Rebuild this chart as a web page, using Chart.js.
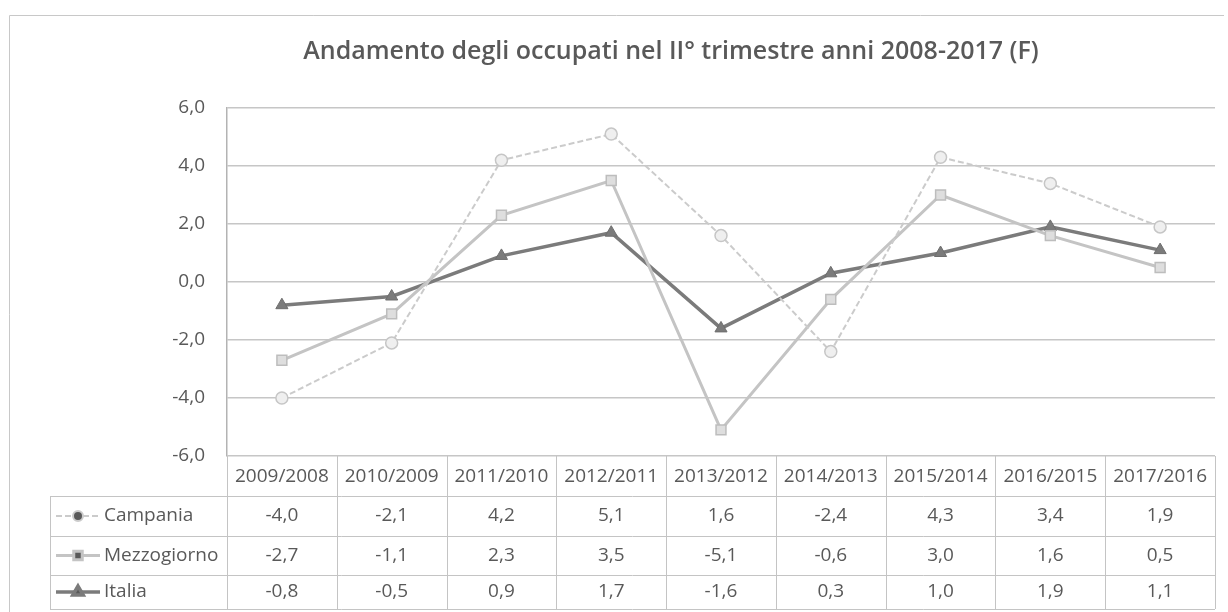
<!DOCTYPE html>
<html>
<head>
<meta charset="utf-8">
<title>Andamento degli occupati</title>
<script src="https://cdn.jsdelivr.net/npm/chart.js@4.4.1/dist/chart.umd.min.js"></script>
<style>
  html, body { margin: 0; padding: 0; background: #fff; }
  canvas { display: block; }
</style>
</head>
<body>
<canvas id="chart" width="1228" height="612"></canvas>
<script>
// dati
const categories = ["2009/2008", "2010/2009", "2011/2010", "2012/2011", "2013/2012",
                    "2014/2013", "2015/2014", "2016/2015", "2017/2016"];
const campania    = [-4.0, -2.1, 4.2, 5.1, 1.6, -2.4, 4.3, 3.4, 1.9];
const mezzogiorno = [-2.7, -1.1, 2.3, 3.5, -5.1, -0.6, 3.0, 1.6, 0.5];
const italia      = [-0.8, -0.5, 0.9, 1.7, -1.6, 0.3, 1.0, 1.9, 1.1];
const yTicks      = [-6, -4, -2, 0, 2, 4, 6];
const chartTitle  = 'Andamento degli occupati nel II° trimestre anni 2008-2017 (F)';

const FONT = "'Open Sans', 'Noto Sans', sans-serif";
const TEXT = '#595959';
const LINE = '#c4c4c4';

const fmt = v => v.toFixed(1).replace('.', ',');

// cornice, titolo e tabella dati sotto l'asse x (come in Excel)
const dataTable = {
  id: 'dataTable',
  beforeDraw(chart) {
    const ctx = chart.ctx;
    ctx.save();
    ctx.strokeStyle = '#c8c8c8';
    ctx.lineWidth = 1;
    ctx.beginPath();
    ctx.moveTo(9.5, 640);
    ctx.lineTo(9.5, 15.5);
    ctx.lineTo(1224, 15.5);
    ctx.stroke();

    ctx.fillStyle = TEXT;
    ctx.font = '600 25px ' + FONT;
    ctx.textAlign = 'center';
    ctx.textBaseline = 'middle';
    ctx.fillText(chartTitle, 671, 52);
    ctx.restore();
  },
  afterDraw(chart) {
    const { ctx, chartArea, scales } = chart;
    const x = scales.x;
    const colW = chartArea.width / categories.length;
    const rows = [chartArea.bottom, 496, 536, 575, 609];
    const legendLeft = 50;

    ctx.save();
    ctx.strokeStyle = LINE;
    ctx.lineWidth = 1;

    // linee orizzontali
    ctx.beginPath();
    for (let r = 1; r < rows.length; r++) {
      ctx.moveTo(legendLeft, rows[r] + 0.5);
      ctx.lineTo(chartArea.right, rows[r] + 0.5);
    }
    // linee verticali
    for (let i = 0; i <= categories.length; i++) {
      const px = Math.round(chartArea.left + i * colW) + 0.5;
      ctx.moveTo(px, rows[0]);
      ctx.lineTo(px, rows[rows.length - 1]);
    }
    ctx.moveTo(legendLeft + 0.5, rows[1]);
    ctx.lineTo(legendLeft + 0.5, rows[rows.length - 1]);
    ctx.stroke();

    // intestazioni
    ctx.fillStyle = TEXT;
    ctx.font = '19px ' + FONT;
    ctx.textAlign = 'center';
    ctx.textBaseline = 'middle';
    categories.forEach((c, i) => {
      ctx.fillText(c, x.getPixelForValue(i), (rows[0] + rows[1]) / 2 + 1);
    });

    // righe delle serie
    chart.data.datasets.forEach((ds, r) => {
      const cy = (rows[r + 1] + rows[r + 2]) / 2;

      // chiave legenda
      ctx.save();
      ctx.strokeStyle = ds.borderColor;
      ctx.lineWidth = ds.borderWidth;
      ctx.setLineDash(ds.borderDash || []);
      ctx.beginPath();
      ctx.moveTo(56, cy);
      ctx.lineTo(100, cy);
      ctx.stroke();
      ctx.setLineDash([]);
      Chart.helpers.drawPoint(ctx, {
        pointStyle: ds.pointStyle,
        radius: ds.pointRadius - 1,
        rotation: 0,
        borderWidth: 1,
        borderColor: ds.pointBorderColor,
        backgroundColor: ds.pointBackgroundColor
      }, 78, cy);
      ctx.restore();

      ctx.fillStyle = TEXT;
      ctx.textAlign = 'left';
      ctx.fillText(ds.label, 104, cy);

      ctx.textAlign = 'center';
      ds.data.forEach((v, i) => {
        ctx.fillText(fmt(v), x.getPixelForValue(i), cy);
      });
    });
    ctx.restore();
  }
};

new Chart(document.getElementById('chart'), {
  type: 'line',
  data: {
    labels: categories,
    datasets: [
      {
        label: 'Campania',
        data: campania,
        borderColor: '#cbcbcb',
        borderWidth: 2,
        borderDash: [6, 3],
        pointStyle: 'circle',
        pointRadius: 6,
        pointBackgroundColor: '#efefef',
        pointBorderColor: '#c6c6c6',
        pointBorderWidth: 1.5
      },
      {
        label: 'Mezzogiorno',
        data: mezzogiorno,
        borderColor: '#c4c4c4',
        borderWidth: 3,
        pointStyle: 'rect',
        pointRadius: 7,
        pointBackgroundColor: '#dedede',
        pointBorderColor: '#bdbdbd',
        pointBorderWidth: 1.5
      },
      {
        label: 'Italia',
        data: italia,
        borderColor: '#7b7b7b',
        borderWidth: 3.5,
        pointStyle: 'triangle',
        pointRadius: 7,
        pointBackgroundColor: '#7b7b7b',
        pointBorderColor: '#6e6e6e',
        pointBorderWidth: 1
      }
    ]
  },
  options: {
    responsive: false,
    animation: false,
    devicePixelRatio: 1,
    layout: { padding: { left: 0, right: 13, top: 108, bottom: 0 } },
    plugins: {
      legend: { display: false },
      tooltip: { enabled: false },
      title: { display: false }
    },
    scales: {
      x: {
        type: 'category',
        offset: true,
        grid: { display: false },
        border: { display: false },
        ticks: { display: false },
        afterFit(scale) { scale.height = 156; }
      },
      y: {
        min: -6,
        max: 6,
        afterBuildTicks(scale) { scale.ticks = yTicks.map(v => ({ value: v })); },
        afterFit(scale) { scale.width = 227; },
        grid: { color: '#c6c6c6', lineWidth: 1.5, drawTicks: false },
        border: { display: true, color: '#b3b3b3', width: 1.5 },
        ticks: {
          color: TEXT,
          padding: 22,
          font: { family: FONT, size: 19 },
          callback: v => fmt(v)
        }
      }
    }
  },
  plugins: [dataTable]
});
</script>
</body>
</html>
